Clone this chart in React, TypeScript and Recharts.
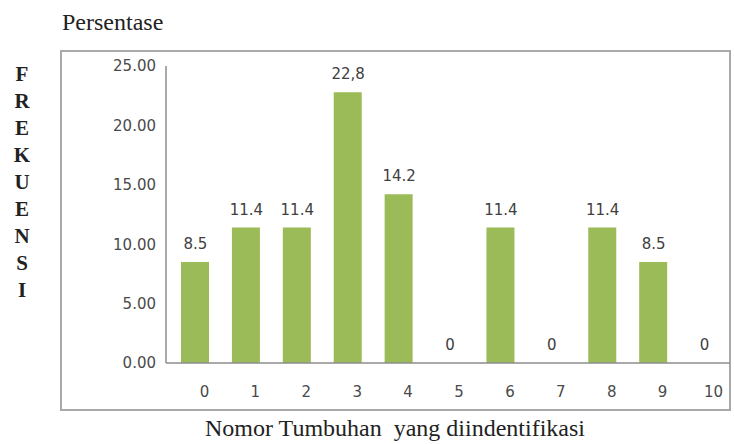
import React from "react";
import { ComposedChart, Bar, Line, XAxis, YAxis, LabelList } from "recharts";

const categories = ["0", "1", "2", "3", "4", "5", "6", "7", "8", "9", "10"];
const values = [8.5, 11.4, 11.4, 22.8, 14.2, 0, 11.4, 0, 11.4, 8.5, 0];
const valueLabels = ["8.5", "11.4", "11.4", "22,8", "14.2", "0", "11.4", "0", "11.4", "8.5", "0"];
const yTicks = [0, 5, 10, 15, 20, 25];
const verticalTitle = ["F", "R", "E", "K", "U", "E", "N", "S", "I"];

const data = categories.map((c, i) => ({ name: c, value: values[i], label: valueLabels[i] }));

const sans = "'DejaVu Sans', Verdana, sans-serif";
const serif = "'Liberation Serif', 'Times New Roman', serif";

export default function App() {
  return (
    <div style={{ position: "absolute", left: 0, top: 0, width: 734, height: 444, background: "#fff" }}>
      <div
        style={{
          position: "absolute",
          left: 60,
          top: 50,
          width: 671,
          height: 361,
          border: "2px solid #a9a9a9",
          boxSizing: "border-box",
        }}
      />
      <div
        style={{
          position: "absolute",
          left: 62,
          top: 8,
          fontFamily: serif,
          fontSize: 24,
          color: "#222",
          lineHeight: "28px",
          whiteSpace: "nowrap",
        }}
      >
        Persentase
      </div>
      <div
        style={{
          position: "absolute",
          left: 205,
          top: 414,
          fontFamily: serif,
          fontSize: 24,
          color: "#222",
          lineHeight: "28px",
          whiteSpace: "pre",
        }}
      >
        {"Nomor Tumbuhan  yang diindentifikasi"}
      </div>
      <div style={{ position: "absolute", left: 8, top: 61, width: 28 }}>
        {verticalTitle.map((ch, i) => (
          <div
            key={i}
            style={{
              fontFamily: serif,
              fontWeight: "bold",
              fontSize: 21,
              lineHeight: "27px",
              height: 27,
              textAlign: "center",
              color: "#222",
            }}
          >
            {ch}
          </div>
        ))}
      </div>
      <div style={{ position: "absolute", left: 0, top: 0 }}>
        <ComposedChart
          width={734}
          height={444}
          data={data}
          margin={{ top: 66, right: 4, bottom: 51, left: 0 }}
        >
          <YAxis
            width={166}
            domain={[0, 25]}
            ticks={yTicks}
            tickFormatter={(v: number) => v.toFixed(2)}
            tickLine={false}
            tickMargin={4}
            axisLine={{ stroke: "#8c8c8c", strokeWidth: 1.5 }}
            tick={{ fill: "#4a4a4a", fontFamily: sans, fontSize: 15 }}
            interval={0}
          />
          <XAxis
            dataKey="name"
            height={30}
            padding={{ left: 4, right: 0 }}
            tickLine={false}
            tickMargin={17}
            axisLine={{ stroke: "#8c8c8c", strokeWidth: 1.5 }}
            tick={{ fill: "#4a4a4a", fontFamily: sans, fontSize: 15, dx: 9 }}
            interval={0}
          />
          <Bar dataKey="value" fill="#9bbb59" barSize={28} isAnimationActive={false} />
          <Line
            dataKey="value"
            stroke="none"
            dot={false}
            activeDot={false}
            isAnimationActive={false}
          >
            <LabelList
              dataKey="label"
              position="top"
              offset={13}
              fill="#404040"
              fontFamily={sans}
              fontSize={15}
            />
          </Line>
        </ComposedChart>
      </div>
    </div>
  );
}
